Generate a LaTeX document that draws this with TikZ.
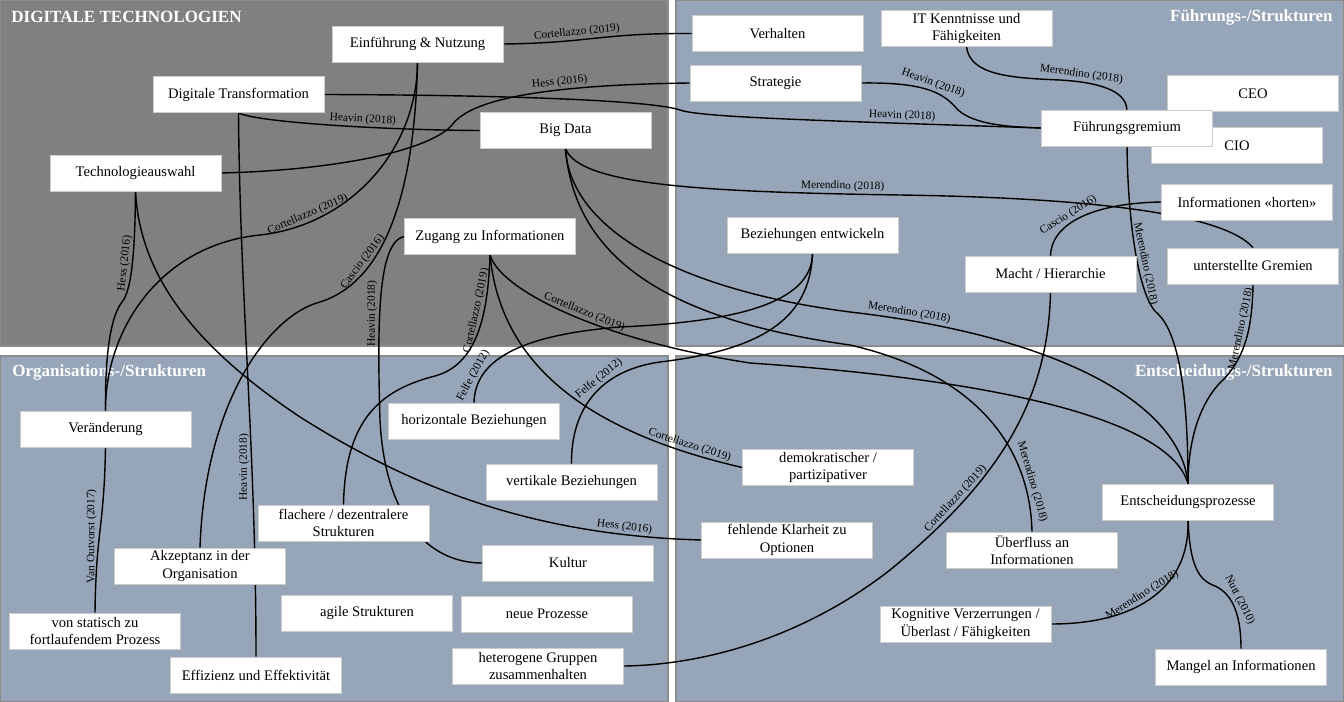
\documentclass[tikz,border=0pt]{standalone}
\usepackage{fontspec}
\setmainfont{Liberation Serif}
\usepackage{tikz}
\definecolor{panelgrey}{RGB}{128,128,128}
\definecolor{panelblue}{RGB}{151,165,184}
\pgfdeclarelayer{panels}
\pgfdeclarelayer{links}
\pgfsetlayers{panels,links,main}

\begin{document}
\begin{tikzpicture}[x=0.02cm, y=-0.02cm,
        box/.style={draw=black!20, fill=white, minimum width=3.42cm, minimum height=0.72cm, inner sep=1pt, align=center, font=\fontsize{8.3}{10}\selectfont},
        panel/.style={draw=black!45, line width=0.6pt},
        paneltitle/.style={text=white, inner sep=0pt, font=\fontsize{9.7}{11}\selectfont\bfseries},
        link/.style={line width=0.8pt},
        quelle/.style={sloped, above, inner sep=1pt, font=\fontsize{6.5}{7}\selectfont},
        quellev/.style={rotate=90, anchor=south, inner sep=1pt, font=\fontsize{6.5}{7}\selectfont}]
            \useasboundingbox (0,0) rectangle (1344,702);
            \begin{pgfonlayer}{panels}
            \fill[white] (0,0) rectangle (1344,702);
            \draw[panel, fill=panelgrey] (0.5,0.5) rectangle (668,346);
            \draw[panel, fill=panelblue] (676,0.5) rectangle (1343.5,346);
            \draw[panel, fill=panelblue] (0.5,356) rectangle (668,701.5);
            \draw[panel, fill=panelblue] (676,356) rectangle (1343.5,701.5);
            \node[paneltitle, anchor=west] (tdig) at (11,17) {DIGITALE TECHNOLOGIEN};
            \node[paneltitle, anchor=east] (tfuehr) at (1333,17) {Führungs-/Strukturen};
            \node[paneltitle, anchor=west] (torg) at (12,372) {Organisations-/Strukturen};
            \node[paneltitle, anchor=east] (tentsch) at (1333,372) {Entscheidungs-/Strukturen};
            \end{pgfonlayer}

            \node[box] (einf) at (417.5,44) {Einführung \& Nutzung};
            \node[box] (digtrans) at (238.5,94.5) {Digitale Transformation};
            \node[box] (bigdata) at (565.5,130.5) {Big Data};
            \node[box] (techaus) at (135.5,173) {Technologieauswahl};
            \node[box] (zugang) at (490,236.5) {Zugang zu Informationen};
            \node[box] (verhalten) at (777.5,33.5) {Verhalten};
            \node[box] (strategie) at (775.5,83) {Strategie};
            \node[box] (itkennt) at (966.5,28.5) {IT Kenntnisse und\\Fähigkeiten};
            \node[box] (ceo) at (1253,93.5) {CEO};
            \node[box] (cio) at (1237,145.5) {CIO};
            \node[box] (fuehrung) at (1127,128) {Führungsgremium};
            \node[box] (horten) at (1247,202) {Informationen «horten»};
            \node[box] (bezent) at (812.5,235) {Beziehungen entwickeln};
            \node[box] (macht) at (1050.5,274) {Macht / Hierarchie};
            \node[box] (gremien) at (1253,266) {unterstellte Gremien};
            \node[box] (veraend) at (105.5,429) {Veränderung};
            \node[box] (horiz) at (474,421) {horizontale Beziehungen};
            \node[box] (vertik) at (571.5,482) {vertikale Beziehungen};
            \node[box] (flach) at (343.5,523) {flachere / dezentralere\\Strukturen};
            \node[box] (akzept) at (200,566) {Akzeptanz in der\\Organisation};
            \node[box] (statisch) at (95,631) {von statisch zu\\fortlaufendem Prozess};
            \node[box] (effiz) at (256,675) {Effizienz und Effektivität};
            \node[box] (agil) at (367,613) {agile Strukturen};
            \node[box] (kultur) at (568,563) {Kultur};
            \node[box] (neuproz) at (547,614) {neue Prozesse};
            \node[box] (hetero) at (538,666) {heterogene Gruppen\\zusammenhalten};
            \node[box] (demokr) at (828,467.5) {demokratischer /\\partizipativer};
            \node[box] (klarheit) at (787,540) {fehlende Klarheit zu\\Optionen};
            \node[box] (entsch) at (1188,502) {Entscheidungsprozesse};
            \node[box] (ueberfl) at (1032,550) {Überfluss an\\Informationen};
            \node[box] (kognit) at (965.5,624) {Kognitive Verzerrungen /\\Überlast / Fähigkeiten};
            \node[box] (mangel) at (1241,667) {Mangel an Informationen};

            \begin{pgfonlayer}{links}
            \draw[link] (einf.east) .. controls (590,43) and (600,33) .. (verhalten.west) node[quelle, pos=0.38] (l1) {Cortellazzo (2019)};
            \draw[link] (techaus.east) .. controls (340,170) and (430,150) .. (452,125) .. controls (470,100) and (540,85) .. (strategie.west) node[quelle, pos=0.65] (l2) {Hess (2016)};
            \draw[link] (digtrans.east) .. controls (500,95) and (650,100) .. (680,110) .. controls (700,117) and (800,120) .. (fuehrung.west) node[quelle, pos=0.78] (l3) {Heavin (2018)};
            \draw[link] (digtrans.south) .. controls (255,122) and (380,130) .. (bigdata.west) node[quelle, pos=0.62] (l4) {Heavin (2018)};
            \draw[link] (digtrans.south) .. controls (240,300) and (256,450) .. (effiz.north) node[quellev, pos=0.67] (l5) {Heavin (2018)};
            \draw[link] (einf.south) .. controls (417,150) and (350,225) .. (260,235) node[quelle, pos=0.8] (l6) {Cortellazzo (2019)} .. controls (160,245) and (105,330) .. (veraend.north);
            \draw[link] (einf.south) .. controls (415,180) and (390,280) .. (320,302) node[quelle, pos=0.72] (l7) {Cascio (2016)} .. controls (270,315) and (205,400) .. (akzept.north);
            \draw[link] (techaus.south) .. controls (135,250) and (132,290) .. (122,302) node[quelle, pos=0.5] (l8) {Hess (2016)} .. controls (108,320) and (105,370) .. (veraend.north);
            \draw[link] (techaus.south) .. controls (140,280) and (200,350) .. (300,417) .. controls (400,480) and (520,535) .. (klarheit.west) node[quelle, pos=0.85] (l9) {Hess (2016)};
            \draw[link] (zugang.west) .. controls (378,242) and (377,320) .. (380,420) node[quellev, pos=0.6] (l10) {Heavin (2018)} .. controls (385,520) and (430,563) .. (kultur.west);
            \draw[link] (zugang.south) .. controls (488,320) and (475,365) .. (435,376) node[quelle, pos=0.33] (l11) {Cortellazzo (2019)} .. controls (380,390) and (345,420) .. (flach.north);
            \draw[link] (zugang.south) .. controls (500,290) and (600,340) .. (750,363) node[quelle, pos=0.55] (l12) {Cortellazzo (2019)} .. controls (1000,380) and (1170,420) .. (entsch.north);
            \draw[link] (zugang.south) .. controls (500,360) and (580,430) .. (demokr.west) node[quelle, pos=0.88] (l13) {Cortellazzo (2019)};
            \draw[link] (bezent.south) .. controls (812,305) and (730,322) .. (620,327) .. controls (520,335) and (475,360) .. (horiz.north) node[quelle, pos=0.8] (l14) {Felfe (2012)};
            \draw[link] (bezent.south) .. controls (810,320) and (760,350) .. (660,362) .. controls (590,372) and (571,420) .. (vertik.north) node[quelle, pos=0.35] (l15) {Felfe (2012)};
            \draw[link] (bigdata.south) .. controls (580,185) and (700,192) .. (900,195) node[quelle, pos=0.9] (l16) {Merendino (2018)} .. controls (1100,198) and (1225,215) .. (gremien.north);
            \draw[link] (bigdata.south) .. controls (570,230) and (680,290) .. (850,312) .. controls (1050,335) and (1180,400) .. (entsch.north) node[quelle, pos=0.1] (l17) {Merendino (2018)};
            \draw[link] (bigdata.south) .. controls (575,260) and (670,320) .. (850,345) .. controls (980,375) and (1030,450) .. (ueberfl.north) node[quelle, pos=0.8] (l18) {Merendino (2018)};
            \draw[link] (horten.west) .. controls (1100,203) and (1052,220) .. (macht.north) node[quelle, pos=0.6] (l19) {Cascio (2016)};
            \draw[link] (macht.south) .. controls (1048,400) and (1000,480) .. (890,570) node[quelle, pos=0.75] (l20) {Cortellazzo (2019)} .. controls (800,640) and (700,665) .. (hetero.east);
            \draw[link] (strategie.east) .. controls (930,82) and (945,95) .. (958,110) node[quelle, pos=0.5] (l21) {Heavin (2018)} .. controls (975,125) and (1010,127) .. (fuehrung.west);
            \draw[link] (itkennt.south) .. controls (970,75) and (1010,78) .. (1060,80) .. controls (1110,83) and (1126,95) .. (fuehrung.north) node[quelle, pos=0.15] (l22) {Merendino (2018)};
            \draw[link] (fuehrung.south) .. controls (1128,230) and (1140,300) .. (1158,314) node[quelle, pos=0.55] (l23) {Merendino (2018)} .. controls (1180,335) and (1188,400) .. (entsch.north);
            \draw[link] (gremien.south) .. controls (1252,330) and (1245,355) .. (1225,378) node[quelle, pos=0.4] (l24) {Merendino (2018)} .. controls (1200,400) and (1188,440) .. (entsch.north);
            \draw[link] (entsch.south) .. controls (1190,585) and (1140,624) .. (kognit.east) node[quelle, pos=0.55] (l25) {Merendino (2018)};
            \draw[link] (entsch.south) .. controls (1190,565) and (1198,580) .. (1215,586) .. controls (1235,595) and (1241,620) .. (mangel.north) node[quelle, pos=0.4] (l26) {Nutt (2010)};
            \draw[link] (veraend.south) .. controls (104,530) and (96,530) .. (statisch.north) node[quellev, pos=0.55] (l27) {Van Outvorst (2017)};
            \end{pgfonlayer}
        \end{tikzpicture}
\end{document}
